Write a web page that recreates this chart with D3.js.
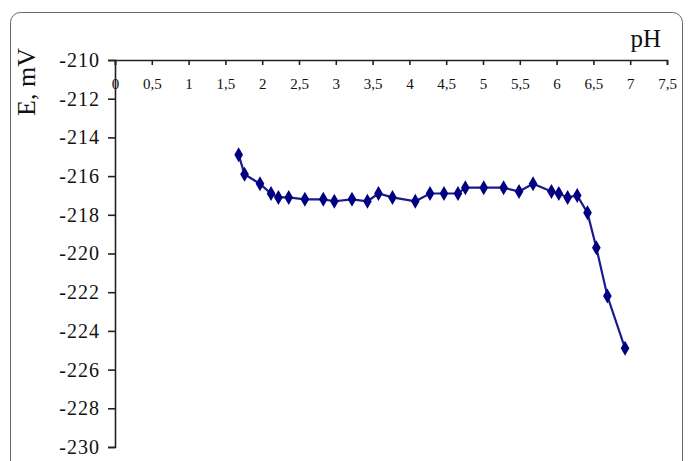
<!DOCTYPE html>
<meta charset="utf-8">
<style>
  body { margin: 0; background: #fff; }
  text { font-family: "Liberation Serif", "DejaVu Serif", serif; }
</style>
<script src="https://d3js.org/d3.v7.min.js"></script>
<div id="my_dataviz"></div>
<script>

// data
var pH = [1.68, 1.76, 1.97, 2.12, 2.22, 2.36, 2.58, 2.83, 2.98, 3.22, 3.43, 3.58, 3.77,
          4.08, 4.28, 4.47, 4.66, 4.76, 5.01, 5.28, 5.49, 5.68, 5.93, 6.03, 6.15, 6.28,
          6.42, 6.54, 6.69, 6.93];
var E  = [-214.9, -215.9, -216.4, -216.9, -217.1, -217.1, -217.2, -217.2, -217.3, -217.2,
          -217.3, -216.9, -217.1, -217.3, -216.9, -216.9, -216.9, -216.6, -216.6, -216.6,
          -216.8, -216.4, -216.8, -216.9, -217.1, -217.0, -217.9, -219.7, -222.2, -224.9];
var xTicks = [0, 0.5, 1, 1.5, 2, 2.5, 3, 3.5, 4, 4.5, 5, 5.5, 6, 6.5, 7, 7.5];
var yTicks = [-210, -212, -214, -216, -218, -220, -222, -224, -226, -228, -230];

var W = 688, H = 461;
var svg = d3.select("#my_dataviz")
  .append("svg")
    .attr("width", W)
    .attr("height", H);

// outer frame
svg.append("rect")
    .attr("x", 10.5).attr("y", 12.5)
    .attr("width", 672).attr("height", 470)
    .attr("rx", 10)
    .attr("fill", "none")
    .attr("stroke", "#666")
    .attr("stroke-width", 1);

var x = d3.scaleLinear().domain([0, 7.5]).range([115, 667]);
var y = d3.scaleLinear().domain([-210, -230]).range([60, 447]);

// Y axis
var yAxis = svg.append("g")
    .attr("transform", "translate(" + x(0) + ",0)")
    .call(d3.axisLeft(y).tickValues(yTicks).tickSize(7).tickPadding(8)
      .tickFormat(function(d) { return "-" + Math.abs(d); }));
yAxis.selectAll("text")
    .style("font-size", "20px")
    .style("letter-spacing", "1px")
    .attr("fill", "#111");

// X axis sits at the top (y = -210), labels below it
var xAxis = svg.append("g")
    .attr("transform", "translate(0," + y(-210) + ")")
    .call(d3.axisBottom(x).tickValues(xTicks).tickSize(5).tickPadding(13)
      .tickFormat(function(d) { return String(d).replace(".", ","); }));
xAxis.selectAll("text")
    .style("font-size", "15px")
    .attr("fill", "#111");

svg.selectAll(".domain, .tick line")
    .attr("stroke", "#222")
    .attr("stroke-width", 1.6);

// line
var pts = pH.map(function(d, i) { return [d, E[i]]; });
svg.append("path")
    .datum(pts)
    .attr("fill", "none")
    .attr("stroke", "#1a1a8c")
    .attr("stroke-width", 2.2)
    .attr("d", d3.line()
      .x(function(d) { return x(d[0]); })
      .y(function(d) { return y(d[1]); }));

// diamond markers
svg.selectAll(".pt")
    .data(pts)
    .enter()
    .append("path")
      .attr("class", "pt")
      .attr("transform", function(d) { return "translate(" + x(d[0]) + "," + y(d[1]) + ")"; })
      .attr("d", d3.symbol().type(d3.symbolDiamond).size(65))
      .attr("fill", "#000080");

// axis titles
svg.append("text")
    .attr("x", 661)
    .attr("y", 47)
    .attr("text-anchor", "end")
    .style("font-size", "25px")
    .attr("fill", "#111")
    .text("pH");

svg.append("text")
    .attr("transform", "translate(35,48) rotate(-90)")
    .attr("text-anchor", "end")
    .style("font-size", "26px")
    .attr("fill", "#111")
    .text("E, mV");

</script>
